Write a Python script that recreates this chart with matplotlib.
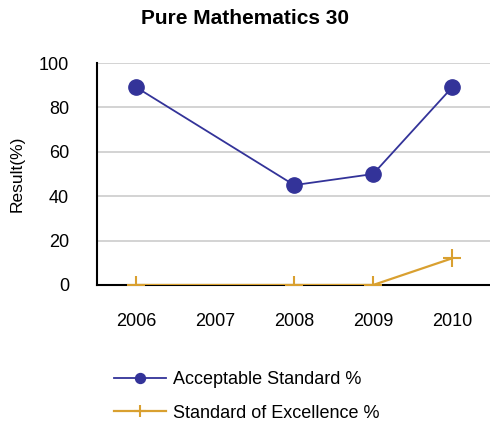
import numpy as np
import matplotlib
matplotlib.use("Agg")
from matplotlib import pyplot as plt

plt.rcParams['font.family'] = ['Liberation Sans', 'DejaVu Sans']

# data
years = ["2006", "2007", "2008", "2009", "2010"]
acceptable = [89, np.nan, 45, 50, 89]
excellence = [0, np.nan, 0, 0, 12]

fig = plt.figure(figsize=(4.9, 4.26), dpi=100)
ax = fig.add_axes([0.198, 0.331, 0.805, 0.521])

x = np.arange(len(years))
a = np.array(acceptable, dtype=float)
e = np.array(excellence, dtype=float)
ok_a = ~np.isnan(a)
ok_e = ~np.isnan(e)

ax.plot(x[ok_a], a[ok_a], color="#333399", lw=1.3, marker="o", ms=11,
        label="Acceptable Standard %", zorder=3)
ax.plot(x[ok_e], e[ok_e], color="#D9A030", lw=1.6, marker="+", ms=13, mew=1.5,
        label="Standard of Excellence %", zorder=4)

ax.set_xlim(-0.5, 4.5)
ax.set_ylim(0, 100)
ax.set_yticks([0, 20, 40, 60, 80, 100])
ax.set_xticks(x)
ax.set_xticklabels(years)
ax.tick_params(axis="both", length=0, labelsize=13)
ax.tick_params(axis="x", pad=20)
ax.tick_params(axis="y", pad=20)
ax.grid(axis="y", color="#cccccc", lw=1.2)
ax.set_axisbelow(True)
for s in ["top", "right"]:
    ax.spines[s].set_visible(False)
ax.spines["left"].set_linewidth(1.5)
ax.spines["bottom"].set_linewidth(1.5)
ax.spines["left"].set_zorder(5)
ax.spines["bottom"].set_zorder(2)

ax.set_ylabel("Result(%)", fontsize=12.5, labelpad=10)
fig.text(0.5, 0.957, "Pure Mathematics 30", ha="center", va="center",
         fontsize=15, fontweight="bold")

fig.legend(loc="upper left", bbox_to_anchor=(0.218, 0.145), frameon=False,
           fontsize=13, handlelength=2.85, labelspacing=0.9, handletextpad=0.4,
           markerscale=0.65, borderaxespad=0)

fig.savefig("out.png", dpi=100)
